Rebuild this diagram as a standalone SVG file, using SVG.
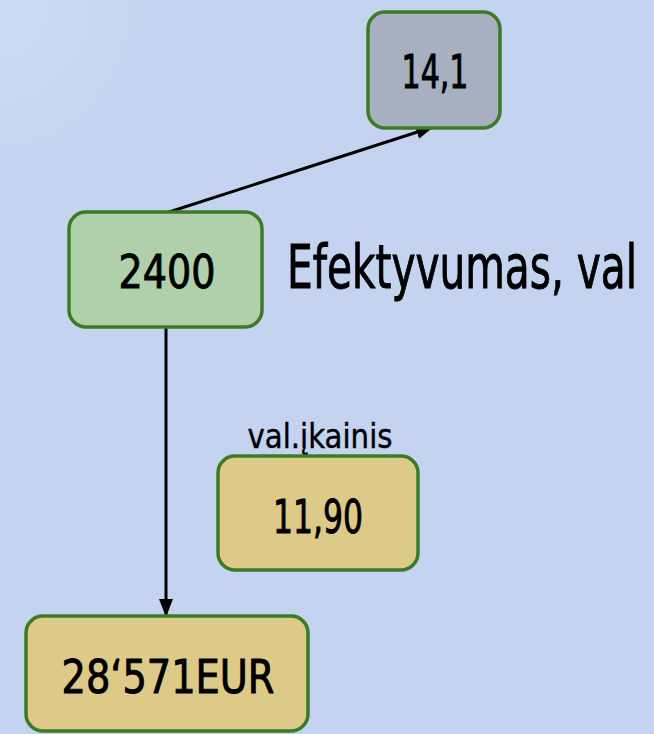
<svg xmlns="http://www.w3.org/2000/svg" width="654" height="734" viewBox="0 0 654 734">
<defs>
<radialGradient id="bg" cx="0" cy="0" r="1" gradientUnits="objectBoundingBox">
<stop offset="0" stop-color="#cddcf6"/>
<stop offset="0.25" stop-color="#c4d4f0"/>
<stop offset="1" stop-color="#c4d4f0"/>
</radialGradient>
<marker id="ah" markerWidth="18" markerHeight="14" refX="17" refY="7" orient="auto" markerUnits="userSpaceOnUse">
<path d="M0,0 L18,7 L0,14 Z" fill="#000"/>
</marker>
<style>
.box{stroke:#3b7b24;stroke-width:3.5}
.t{font-family:"DejaVu Sans Condensed","Liberation Sans Narrow","Liberation Sans",sans-serif;fill:#000;stroke:#000;stroke-width:0.9;text-anchor:middle}
.conn{stroke:#000;stroke-width:3;fill:none}
</style>
</defs>
<rect x="0" y="0" width="654" height="734" fill="url(#bg)"/>
<g id="connectors">
<line class="conn" x1="166" y1="213" x2="433" y2="127" marker-end="url(#ah)"/>
<line class="conn" x1="166" y1="328" x2="166" y2="616" marker-end="url(#ah)"/>
</g>
<g id="node-14-1">
<rect class="box" x="368" y="12" width="132" height="116" rx="17" fill="#a7b0c1"/>
<text class="t" x="435" y="88" font-size="46" textLength="67" lengthAdjust="spacingAndGlyphs">14,1</text>
</g>
<g id="node-2400">
<rect class="box" x="69" y="212" width="193" height="115" rx="17" fill="#b0d0ac"/>
<text class="t" x="167" y="288" font-size="46" textLength="97" lengthAdjust="spacingAndGlyphs">2400</text>
</g>
<g id="label-efektyvumas">
<text class="t" transform="scale(0.7,1)" x="410" y="288" font-size="60" style="text-anchor:start" textLength="500" lengthAdjust="spacingAndGlyphs">Efektyvumas, val</text>
</g>
<g id="node-11-90">
<text class="t" x="320" y="448" font-size="33" style="stroke-width:0.4" textLength="145" lengthAdjust="spacingAndGlyphs">val.įkainis</text>
<rect class="box" x="218" y="456" width="200" height="114" rx="17" fill="#ddca89"/>
<text class="t" x="318" y="533" font-size="46" textLength="90" lengthAdjust="spacingAndGlyphs">11,90</text>
</g>
<g id="node-28571">
<rect class="box" x="26" y="616" width="282" height="115" rx="17" fill="#ddca89"/>
<text class="t" x="168" y="693" font-size="46" textLength="213" lengthAdjust="spacingAndGlyphs">28‘571EUR</text>
</g>
</svg>
